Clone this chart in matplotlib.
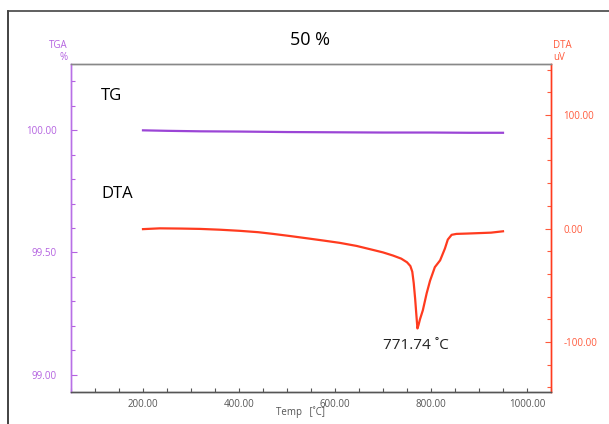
import matplotlib
matplotlib.use("Agg")
import matplotlib.pyplot as plt
from matplotlib.lines import Line2D
from matplotlib.ticker import MultipleLocator, FormatStrFormatter

plt.rcParams['font.family'] = ['Open Sans', 'DejaVu Sans']

# TG curve (mass %, left axis)
tg_temp = [200, 250, 320, 400, 500, 600, 700, 800, 880, 950]
tg_mass = [99.999, 99.997, 99.995, 99.994, 99.992, 99.991, 99.990, 99.990, 99.989, 99.989]

# DTA curve (uV, right axis)
dta_temp = [200, 235, 280, 319, 360, 402, 440, 471, 505, 542, 575, 610, 645, 679,
            700, 721, 738, 750, 757, 761, 764, 767, 769.5, 771.74, 774, 777, 783,
            791, 798, 808, 819, 829, 835, 843, 853, 875, 900, 925, 950]
dta_uv = [-0.5, 0.2, 0.0, -0.3, -1.0, -2.0, -3.2, -4.7, -6.5, -8.6, -10.5, -12.6, -15.3, -18.8,
          -21.0, -23.8, -26.5, -29.7, -33.0, -38.0, -48.0, -62.0, -76.0, -88.0, -85.0, -80.0, -72.0,
          -57.0, -46.0, -34.0, -28.0, -17.6, -9.7, -5.5, -4.7, -4.4, -4.0, -3.6, -2.4]

peak_temp = 771.74
peak_uv = -88.0

purple = '#9b45d6'
purple_txt = '#b462e0'
red = '#ff3b1f'
red_txt = '#ff5a3c'
gray = '#555555'

fig = plt.figure(figsize=(6.09, 4.24), dpi=100)
ax = fig.add_axes([71 / 609, 1 - 392 / 424, 480 / 609, 328 / 424])
ax2 = ax.twinx()

ax.plot(tg_temp, tg_mass, color=purple, lw=1.6)
ax2.plot(dta_temp, dta_uv, color=red, lw=1.6)

ax.set_xlim(50, 1050)
ax.set_ylim(98.93, 100.27)
ax2.set_ylim(-144, 145)

ax.xaxis.set_major_locator(MultipleLocator(200))
ax.xaxis.set_minor_locator(MultipleLocator(50))
ax.xaxis.set_major_formatter(FormatStrFormatter('%.2f'))
ax.yaxis.set_major_locator(MultipleLocator(0.5))
ax.yaxis.set_minor_locator(MultipleLocator(0.1))
ax.yaxis.set_major_formatter(FormatStrFormatter('%.2f'))
ax2.yaxis.set_major_locator(MultipleLocator(100))
ax2.yaxis.set_minor_locator(MultipleLocator(20))
ax2.yaxis.set_major_formatter(FormatStrFormatter('%.2f'))

ax.tick_params(axis='x', which='both', direction='in', colors=gray, labelsize=7,
               length=3, width=0.8, pad=5, top=False)
ax.tick_params(axis='y', which='both', direction='in', colors=purple_txt, labelsize=7,
               length=3, width=0.8, pad=10)
ax.tick_params(axis='y', which='major', length=4)
ax2.tick_params(axis='y', which='both', direction='in', colors=red_txt, labelsize=7,
                length=3, width=0.8, pad=9)
ax2.tick_params(axis='y', which='major', length=4)

for a in (ax, ax2):
    a.spines['left'].set_color('#b870e6')
    a.spines['right'].set_color(red)
    a.spines['top'].set_color('#888888')
    a.spines['bottom'].set_color(gray)
    for s in a.spines.values():
        s.set_linewidth(1.0)

fig.text(300 / 609, 1 - 412 / 424, 'Temp   [˚C]', fontsize=7, color=gray, ha='center', va='center')

fig.text(68 / 609, 1 - 45 / 424, 'TGA', fontsize=7, color=purple_txt, ha='right', va='center')
fig.text(68 / 609, 1 - 58 / 424, '%', fontsize=7, color=purple_txt, ha='right', va='center')
fig.text(553 / 609, 1 - 45 / 424, 'DTA', fontsize=7, color=red_txt, ha='left', va='center')
fig.text(553 / 609, 1 - 58 / 424, 'uV', fontsize=7, color=red_txt, ha='left', va='center')

fig.text(310 / 609, 1 - 40 / 424, '50 %', fontsize=13, color='black', ha='center', va='center')
fig.text(101 / 609, 1 - 96 / 424, 'TG', fontsize=12, color='black', ha='left', va='center')
fig.text(101 / 609, 1 - 194 / 424, 'DTA', fontsize=12, color='black', ha='left', va='center')
ax2.annotate(f'{peak_temp:.2f} ˚C', xy=(peak_temp, peak_uv), xytext=(-1, -12),
             textcoords='offset points', ha='center', va='center', fontsize=11, color='#222222')

# screenshot frame
fig.add_artist(Line2D([8 / 609, 8 / 609], [0, 1 - 11 / 424], color='#222222', lw=1.2))
fig.add_artist(Line2D([8 / 609, 1], [1 - 11 / 424, 1 - 11 / 424], color='#444444', lw=1.2))

fig.savefig('out.png', dpi=100)
